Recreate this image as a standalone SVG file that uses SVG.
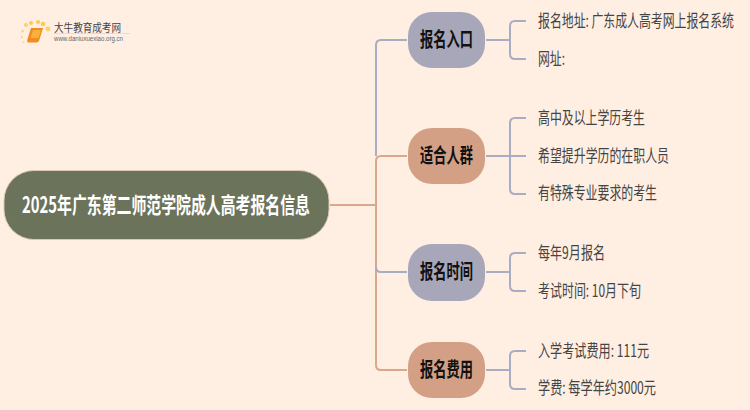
<svg xmlns="http://www.w3.org/2000/svg" width="750" height="410" viewBox="0 0 750 410">
<style>
text{font-family:"Noto Sans CJK SC","Liberation Sans",sans-serif}
.c{fill:none;stroke-width:2}
.b{stroke:#a9adc4}
.o{stroke:#d9a78c}
.n{font-size:20px;font-weight:700;fill:#111;text-anchor:middle}
.l{font-size:17px;fill:#444}
</style>
<rect width="750" height="410" fill="#ffeee2"/>
<g id="logo">
<circle cx="26" cy="25" r="2" fill="#fbd26a"/><circle cx="31" cy="23" r="2" fill="#fbc94f"/><circle cx="38" cy="22" r="2" fill="#fbc94f"/><circle cx="43" cy="24" r="2.200" fill="#fbc94f"/><circle cx="48" cy="29" r="2.400" fill="#fbd26a"/><circle cx="22.500" cy="31" r="1.500" fill="#fbd98a"/><circle cx="22" cy="37" r="1.200" fill="#fbd98a"/><circle cx="23.500" cy="42" r="1" fill="#fbd98a"/>
<path d="M31 28H43L39 41Q38 42.500 36 42.500H28Q26.500 41 27.500 39Z" fill="#f28c1e"/><path d="M33 30H41L38.500 38H30.500Z" fill="#f9b13e"/>
<text x="54" y="32" font-size="11" fill="#444" textLength="67" lengthAdjust="spacingAndGlyphs">大牛教育成考网</text>
<path d="M54 33.500H130" stroke="#e6dcd4" stroke-width="1"/>
<text x="54" y="41" font-size="6.500" fill="#666" textLength="69" lengthAdjust="spacingAndGlyphs" style="font-family:'Liberation Sans',sans-serif">www.daniuxuexiao.org.cn</text>
</g>
<g id="connectors">
<path class="c b" d="M376 156V45Q376 40 381 40H407"/>
<path class="c o" d="M330 205H376M376 205V161Q376 156 381 156H407M376 205V365Q376 370 381 370H407"/>
<path class="c b" d="M376 267Q376 272 381 272H407"/>
<path class="c b" d="M486 40H510M526 21H515Q510 21 510 26V54Q510 59 515 59H526"/>
<path class="c b" d="M486 156H526M526 118H515Q510 118 510 123V189Q510 194 515 194H526"/>
<path class="c b" d="M486 272H510M526 253H515Q510 253 510 258V286Q510 291 515 291H526"/>
<path class="c b" d="M486 370H510M526 351H515Q510 351 510 356V384Q510 389 515 389H526"/>
</g>
<g id="root"><rect x="4" y="170.500" width="325" height="69" rx="30" fill="#6b735b" stroke="#d9c9b0"/><text x="166" y="212.500" font-size="22" font-weight="700" fill="#fff" text-anchor="middle" textLength="288" lengthAdjust="spacingAndGlyphs">2025年广东第二师范学院成人高考报名信息</text></g>
<g id="n1"><rect x="408" y="12" width="77" height="56" rx="24" fill="#a7a7b9"/><text class="n" x="446.500" y="47" textLength="53" lengthAdjust="spacingAndGlyphs">报名入口</text></g>
<g id="n2"><rect x="408" y="128" width="77" height="56" rx="24" fill="#d3a086"/><text class="n" x="446.500" y="163" textLength="53" lengthAdjust="spacingAndGlyphs">适合人群</text></g>
<g id="n3"><rect x="408" y="244" width="77" height="57" rx="24" fill="#a7a7b9"/><text class="n" x="446.500" y="279" textLength="53" lengthAdjust="spacingAndGlyphs">报名时间</text></g>
<g id="n4"><rect x="408" y="342" width="77" height="56" rx="24" fill="#d3a086"/><text class="n" x="446.500" y="377" textLength="53" lengthAdjust="spacingAndGlyphs">报名费用</text></g>
<g id="l1"><text class="l" transform="translate(538 27) scale(0.7 1)" textLength="280" lengthAdjust="spacingAndGlyphs">报名地址: 广东成人高考网上报名系统</text></g>
<g id="l2"><text class="l" x="538" y="65" textLength="27" lengthAdjust="spacingAndGlyphs">网址:</text></g>
<g id="l3"><text class="l" x="538" y="124" textLength="107" lengthAdjust="spacingAndGlyphs">高中及以上学历考生</text></g>
<g id="l4"><text class="l" x="538" y="162" textLength="131" lengthAdjust="spacingAndGlyphs">希望提升学历的在职人员</text></g>
<g id="l5"><text class="l" x="538" y="199" textLength="119" lengthAdjust="spacingAndGlyphs">有特殊专业要求的考生</text></g>
<g id="l6"><text class="l" x="538" y="259" textLength="67" lengthAdjust="spacingAndGlyphs">每年9月报名</text></g>
<g id="l7"><text class="l" x="538" y="297" textLength="103" lengthAdjust="spacingAndGlyphs">考试时间: 10月下旬</text></g>
<g id="l8"><text class="l" x="538" y="357" textLength="111" lengthAdjust="spacingAndGlyphs">入学考试费用: 111元</text></g>
<g id="l9"><text class="l" x="538" y="394" textLength="118" lengthAdjust="spacingAndGlyphs">学费: 每学年约3000元</text></g>
</svg>
